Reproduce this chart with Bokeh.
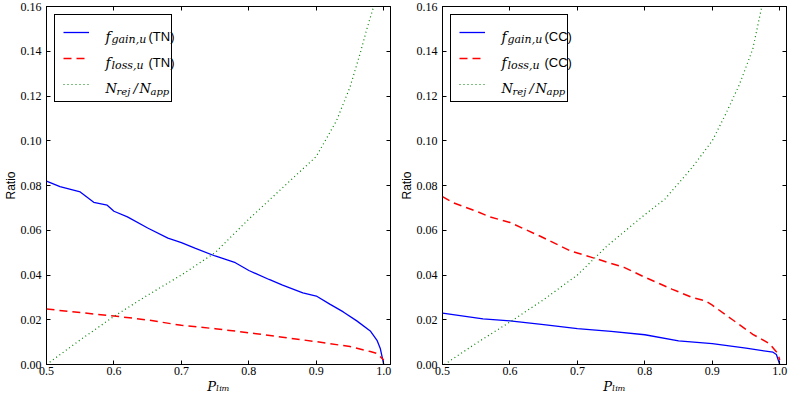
from bokeh.plotting import figure
from bokeh.models import (Range1d, FixedTicker, PrintfTickFormatter, LinearAxis,
                          Legend, LegendItem, Label)
from bokeh.core.properties import value
from bokeh.layouts import row
from bokeh.embed import file_html
from bokeh.resources import INLINE

# ---------------- data ----------------
x_ticks = [0.5, 0.6, 0.7, 0.8, 0.9, 1.0]
y_ticks = [0.00, 0.02, 0.04, 0.06, 0.08, 0.10, 0.12, 0.14, 0.16]

# Left panel (TN)
tn_gain_x = [0.50, 0.52, 0.55, 0.57, 0.59, 0.60, 0.62, 0.65, 0.68, 0.70, 0.72, 0.75,
             0.78, 0.80, 0.83, 0.85, 0.88, 0.90, 0.92, 0.94, 0.96, 0.98, 0.99, 0.995, 1.0]
tn_gain_y = [0.082, 0.0795, 0.0771, 0.0725, 0.0712, 0.0685, 0.066, 0.061, 0.0565, 0.0545,
             0.052, 0.0485, 0.0455, 0.042, 0.038, 0.0355, 0.032, 0.0306, 0.027, 0.0235,
             0.0195, 0.015, 0.0108, 0.007, 0.0]
tn_loss_x = [0.50, 0.55, 0.60, 0.65, 0.70, 0.75, 0.80, 0.85, 0.90, 0.95, 0.98, 0.99, 1.0]
tn_loss_y = [0.0248, 0.0232, 0.0217, 0.0199, 0.0175, 0.0160, 0.0142, 0.0122, 0.0102,
             0.0080, 0.0058, 0.0049, 0.002]
tn_rej_x = [0.50, 0.55, 0.60, 0.65, 0.70, 0.75, 0.80, 0.85, 0.90, 0.93, 0.95, 0.965,
            0.975, 0.985, 0.99]
tn_rej_y = [0.0, 0.011, 0.0215, 0.031, 0.040, 0.050, 0.065, 0.079, 0.093, 0.109, 0.124,
            0.139, 0.150, 0.160, 0.168]

# Right panel (CC)
cc_gain_x = [0.50, 0.56, 0.60, 0.65, 0.70, 0.75, 0.80, 0.85, 0.90, 0.95, 0.99, 0.995, 1.0]
cc_gain_y = [0.023, 0.0204, 0.0195, 0.0178, 0.0160, 0.0148, 0.0133, 0.0106, 0.0093,
             0.0073, 0.0055, 0.0045, 0.0]
cc_loss_x = [0.50, 0.516, 0.55, 0.57, 0.60, 0.645, 0.69, 0.72, 0.77, 0.80, 0.84, 0.87,
             0.89, 0.90, 0.93, 0.96, 0.985, 0.997, 1.0]
cc_loss_y = [0.075, 0.0723, 0.0685, 0.066, 0.0635, 0.0573, 0.0507, 0.048, 0.0433, 0.039,
             0.0337, 0.030, 0.0284, 0.0265, 0.020, 0.0135, 0.0093, 0.0049, 0.002]
cc_rej_x = [0.503, 0.55, 0.60, 0.65, 0.70, 0.744, 0.80, 0.83, 0.87, 0.90, 0.92, 0.94,
            0.96, 0.972, 0.98]
cc_rej_y = [0.0, 0.0095, 0.019, 0.029, 0.040, 0.053, 0.067, 0.074, 0.088, 0.100, 0.112,
            0.125, 0.141, 0.158, 0.168]

x_label = "P\u2097\u1d62\u2098"
y_label = "Ratio"

SERIF = "Liberation Serif"
MATH = "DejaVu Serif"
SANS = "Liberation Sans"


def style_axis(ax, fmt, show_labels=True):
    ticks = x_ticks if fmt == "%.1f" else y_ticks
    ax.ticker = FixedTicker(ticks=ticks)
    ax.formatter = PrintfTickFormatter(format=fmt)
    ax.major_tick_in = 4
    ax.major_tick_out = 0
    ax.minor_tick_line_color = None
    ax.axis_line_color = "black"
    ax.major_tick_line_color = "black"
    ax.major_label_text_font = SERIF
    ax.major_label_text_font_size = "12px"
    ax.major_label_text_color = "black"
    if not show_labels:
        ax.major_label_overrides = {t: "" for t in ticks}
        ax.major_label_text_font_size = "1px"
        ax.major_label_standoff = 0


def make_panel(tag, gx, gy, lx, ly, rx, ry, width, bl, br):
    p = figure(width=width, height=396, x_range=Range1d(0.5, 1.01),
               y_range=Range1d(0.0, 0.16), output_backend="svg",
               toolbar_location=None, min_border_left=bl, min_border_right=br,
               min_border_top=6, min_border_bottom=30)
    p.xgrid.visible = False
    p.ygrid.visible = False
    p.outline_line_color = "black"
    p.outline_line_alpha = 1.0
    p.background_fill_color = "white"
    p.border_fill_color = "white"

    xa = p.xaxis[0]
    style_axis(xa, "%.1f")
    xa.major_label_standoff = 2
    xa.axis_label = x_label
    xa.axis_label_text_font = MATH
    xa.axis_label_text_font_size = "13px"
    xa.axis_label_text_font_style = "italic"
    xa.axis_label_text_color = "black"
    xa.axis_label_standoff = 1

    ya = p.yaxis[0]
    style_axis(ya, "%.2f")
    ya.major_label_standoff = 5
    ya.axis_label = y_label
    ya.axis_label_text_font = SANS
    ya.axis_label_text_font_size = "12px"
    ya.axis_label_text_font_style = "normal"
    ya.axis_label_text_color = "black"
    ya.axis_label_standoff = 0

    top = LinearAxis()
    style_axis(top, "%.1f", show_labels=False)
    p.add_layout(top, "above")
    right = LinearAxis()
    style_axis(right, "%.2f", show_labels=False)
    p.add_layout(right, "right")

    r_gain = p.line(gx, gy, line_color="#0000ff", line_width=1.3)
    r_loss = p.line(lx, ly, line_color="#ff0000", line_width=1.5, line_dash="8 5")
    r_rej = p.line(rx, ry, line_color="#008000", line_width=1.2, line_dash="1 3")

    legend = Legend(items=[LegendItem(label=value(""), renderers=[r_gain]),
                           LegendItem(label=value(""), renderers=[r_loss]),
                           LegendItem(label=value(""), renderers=[r_rej])],
                    location="top_left", margin=8, padding=8, spacing=8,
                    glyph_width=26, glyph_height=18, label_height=18,
                    label_width=66, label_standoff=8,
                    border_line_color="black", border_line_alpha=1.0,
                    border_line_width=1, background_fill_color="white",
                    background_fill_alpha=0.0)
    p.add_layout(legend)

    x0 = 0.5
    y0 = 0.16

    def lab(text, dx, dy, font, size, italic):
        p.add_layout(Label(x=x0, y=y0, x_offset=dx, y_offset=-dy, text=text,
                           text_font=font, text_font_size=size,
                           text_font_style="italic" if italic else "normal",
                           text_color="black", text_baseline="alphabetic",
                           text_align="left", level="overlay"))

    rows = [25, 51, 77]
    # row 1: f_{gain,u}(tag)
    lab("f", 59, rows[0] + 5, MATH, "14px", True)
    lab("gain,u", 65, rows[0] + 8, MATH, "11px", True)
    lab("(" + tag + ")", 102, rows[0] + 5, SANS, "13px", False)
    # row 2: f_{loss,u}(tag)
    lab("f", 59, rows[1] + 5, MATH, "14px", True)
    lab("loss,u", 65, rows[1] + 8, MATH, "11px", True)
    lab("(" + tag + ")", 102, rows[1] + 5, SANS, "13px", False)
    # row 3: N_{rej}/N_{app}
    lab("N", 59, rows[2] + 5, MATH, "13px", True)
    lab("rej", 70, rows[2] + 8, MATH, "10px", True)
    lab("/", 87, rows[2] + 5, MATH, "13px", True)
    lab("N", 93, rows[2] + 5, MATH, "13px", True)
    lab("app", 104, rows[2] + 8, MATH, "10px", True)
    return p


p1 = make_panel("TN", tn_gain_x, tn_gain_y, tn_loss_x, tn_loss_y, tn_rej_x, tn_rej_y,
                392, 43, 2)
p2 = make_panel("CC", cc_gain_x, cc_gain_y, cc_loss_x, cc_loss_y, cc_rej_x, cc_rej_y,
                396, 50, 2)

layout = row(p1, p2)
open("out.html", "w").write(file_html(layout, INLINE))
